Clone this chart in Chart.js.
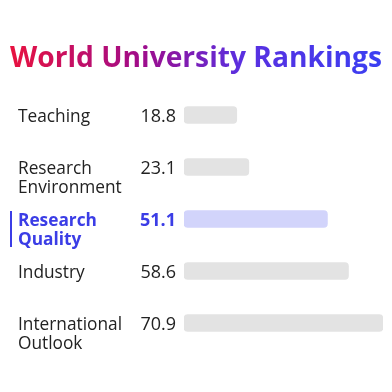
<!DOCTYPE html>
<html>
<head>
<meta charset="utf-8">
<script src="https://cdn.jsdelivr.net/npm/chart.js@4"></script>
<style>
html,body{margin:0;padding:0;background:#fff;}
#wrap{position:relative;width:392px;height:392px;}
#title{position:absolute;left:0;top:36px;width:392px;text-align:center;font-family:"Open Sans",sans-serif;font-weight:700;font-size:28.2px;line-height:40px;white-space:nowrap;}
#title span{background:linear-gradient(90deg,#e8123f 0%,#a00c8a 35%,#5a2fe0 62%,#3a3ff2 100%);-webkit-background-clip:text;background-clip:text;color:transparent;}
#c{position:absolute;left:0;top:0;}
</style>
</head>
<body>
<div id="wrap">
<div id="title"><span>World University Rankings</span></div>
<canvas id="c" width="392" height="392"></canvas>
</div>
<script>
const categories = [["Teaching"], ["Research", "Environment"], ["Research", "Quality"], ["Industry"], ["International", "Outlook"]];
const scores = [18.8, 23.1, 51.1, 58.6, 70.9];
const highlightIndex = 2;

const grey = '#e3e3e3';
const hiBar = '#d2d4fb';
const hiText = '#3b3de6';
const txt = '#222222';

const labelPlugin = {
  id: 'labels',
  afterDatasetsDraw(chart) {
    const ctx = chart.ctx;
    const y = chart.scales.y;
    const x = chart.scales.x;
    ctx.save();
    categories.forEach((lines, i) => {
      const cy = y.getPixelForValue(i);
      const hi = i === highlightIndex;
      const w = hi ? '700 ' : '400 ';
      ctx.fillStyle = hi ? hiText : txt;
      ctx.textBaseline = 'middle';
      ctx.textAlign = 'left';
      ctx.font = w + '17.3px "Open Sans"';
      lines.forEach((ln, k) => ctx.fillText(ln, 18, cy + 2 + k * 19));
      ctx.textAlign = 'right';
      ctx.font = w + '18px "Open Sans"';
      ctx.fillText(scores[i].toFixed(1), x.left - 8, cy + 2);
      if (hi) {
        ctx.fillStyle = hiText;
        ctx.fillRect(10, cy - 8, 2, 36);
      }
    });
    ctx.restore();
  }
};

new Chart(document.getElementById('c'), {
  type: 'bar',
  data: {
    labels: categories.map(c => c.join(' ')),
    datasets: [{
      data: scores,
      backgroundColor: scores.map((v, i) => i === highlightIndex ? hiBar : grey),
      borderRadius: 4,
      borderSkipped: false,
      barThickness: 17
    }]
  },
  options: {
    indexAxis: 'y',
    responsive: false,
    animation: false,
    layout: { padding: { left: 184, right: 9, top: 89, bottom: 43 } },
    scales: {
      x: { display: false, min: 0, max: 70.9 },
      y: { display: false }
    },
    plugins: { legend: { display: false }, tooltip: { enabled: false } }
  },
  plugins: [labelPlugin]
});
</script>
</body>
</html>
